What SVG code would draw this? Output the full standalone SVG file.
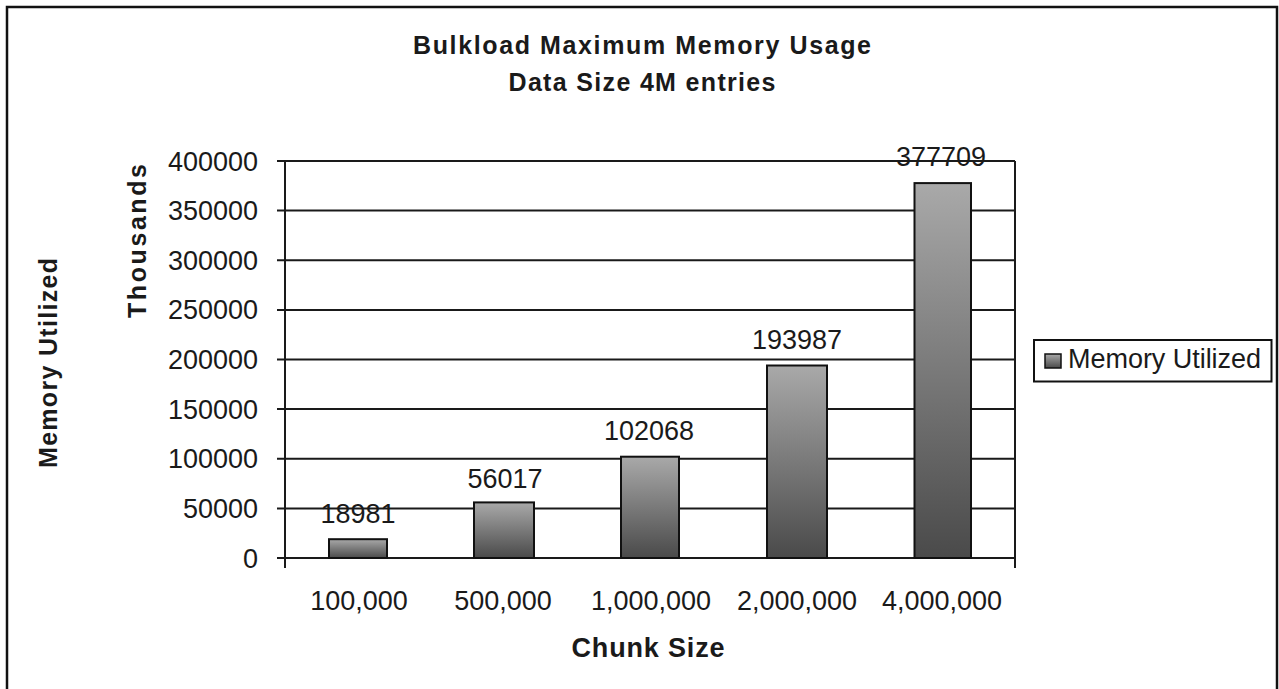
<svg xmlns="http://www.w3.org/2000/svg" width="1279" height="689" viewBox="0 0 1279 689">
<style>
text{font-family:"Liberation Sans",Arial,sans-serif;fill:#1a1a1a;font-size:27px}
.b{font-weight:bold}
.t{font-size:25px}
.tick{text-anchor:end}
.mid{text-anchor:middle}
.ln{stroke:#1a1a1a;stroke-width:2;fill:none}
.bar{fill:url(#g);stroke:#111;stroke-width:2}
</style>
<defs>
<linearGradient id="g" x1="0" y1="0" x2="0" y2="1">
<stop offset="0" stop-color="#a9a9a9"/>
<stop offset="1" stop-color="#4a4a4a"/>
</linearGradient>
</defs>
<rect width="1279" height="689" fill="#fff"/>
<rect x="7" y="7" width="1270" height="700" fill="none" stroke="#111" stroke-width="2.5"/>
<g id="title">
<text class="b mid t" x="642" y="54" textLength="458" lengthAdjust="spacing">Bulkload Maximum Memory Usage</text>
<text class="b mid t" x="642" y="91" textLength="267" lengthAdjust="spacing">Data Size 4M entries</text>
</g>
<g id="axis-titles">
<text class="b mid t" transform="translate(57,363) rotate(-90)" textLength="210" lengthAdjust="spacing">Memory Utilized</text>
<text class="b mid t" transform="translate(146,241) rotate(-90)" textLength="154" lengthAdjust="spacing">Thousands</text>
<text class="b mid" x="648" y="657" textLength="153" lengthAdjust="spacing">Chunk Size</text>
</g>
<g id="grid">
<path class="ln" d="M277 161H1015M277 210.6H1015M277 260.3H1015M277 309.9H1015M277 359.5H1015M277 409.1H1015M277 458.8H1015M277 508.4H1015M277 558H1015M285 161V568M1015 161V568"/>
</g>
<g id="y-labels">
<text class="tick" x="258" y="170.5">400000</text>
<text class="tick" x="258" y="220.1">350000</text>
<text class="tick" x="258" y="269.8">300000</text>
<text class="tick" x="258" y="319.4">250000</text>
<text class="tick" x="258" y="369">200000</text>
<text class="tick" x="258" y="418.6">150000</text>
<text class="tick" x="258" y="468.3">100000</text>
<text class="tick" x="258" y="517.9">50000</text>
<text class="tick" x="258" y="567.5">0</text>
</g>
<g id="x-labels">
<text class="mid" x="359" y="610">100,000</text>
<text class="mid" x="503" y="610">500,000</text>
<text class="mid" x="651" y="610">1,000,000</text>
<text class="mid" x="797" y="610">2,000,000</text>
<text class="mid" x="942" y="610">4,000,000</text>
</g>
<g id="bar1"><rect class="bar" x="329" y="539.2" width="58" height="18.8"/><text class="mid" x="358" y="523">18981</text></g>
<g id="bar2"><rect class="bar" x="474" y="502.4" width="60" height="55.6"/><text class="mid" x="505" y="488">56017</text></g>
<g id="bar3"><rect class="bar" x="621" y="456.7" width="58" height="101.3"/><text class="mid" x="649" y="440">102068</text></g>
<g id="bar4"><rect class="bar" x="767" y="365.5" width="60" height="192.5"/><text class="mid" x="797" y="348.5">193987</text></g>
<g id="bar5"><rect class="bar" x="914.5" y="183.1" width="56.5" height="374.9"/><text class="mid" x="941" y="166">377709</text></g>
<g id="legend">
<rect x="1034" y="340" width="237.5" height="41.5" fill="#fff" stroke="#111" stroke-width="2"/>
<rect x="1045" y="354" width="16" height="14" fill="url(#g)" stroke="#111" stroke-width="1.5"/>
<text x="1068" y="368" textLength="193" lengthAdjust="spacing">Memory Utilized</text>
</g>
</svg>
